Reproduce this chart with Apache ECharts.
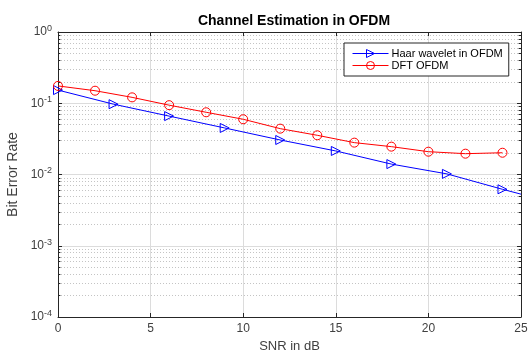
<!DOCTYPE html>
<html>
<head>
<meta charset="utf-8">
<script src="https://cdn.jsdelivr.net/npm/echarts@6/dist/echarts.min.js"></script>
<style>
  html, body { margin: 0; padding: 0; background: #fff; }
  #chart { width: 528px; height: 354px; }
</style>
</head>
<body>
<div id="chart"></div>
<script>
// SNR (dB) and BER
const haarSnr = [0, 3, 6, 9, 12, 15, 18, 21, 24, 25];
const haarBer = [0.153, 0.097, 0.066, 0.045, 0.0305, 0.0214, 0.014, 0.0102, 0.0062, 0.0053];
const dftSnr = [0, 2, 4, 6, 8, 10, 12, 14, 16, 18, 20, 22, 24];
const dftBer = [0.175, 0.150, 0.121, 0.094, 0.0747, 0.0596, 0.044, 0.0355, 0.028, 0.0246, 0.0209, 0.0196, 0.0202];
const decades = [1e-4, 1e-3, 1e-2, 1e-1];
const xMin = 0, xMax = 25;

// minor grid lines at 2..9 of each decade
const minorVals = [];
decades.forEach((d) => { for (let k = 2; k <= 9; k++) minorVals.push(k * d); });

const axisColor = "#262626";
const labelColor = "#404040";
const font = "Liberation Sans";

const chart = echarts.init(document.getElementById("chart"), null, { renderer: "canvas" });

function powLabel(v) {
  const e = Math.round(Math.log10(v));
  return "{b|10}{s|" + e + "}";
}

const ticksIn = { show: true, inside: true, length: 4, lineStyle: { color: axisColor } };
const minorTickLen = 0.13; // in SNR units, ~2.5px

chart.setOption({
  animation: false,
  backgroundColor: "#fff",
  title: {
    text: "Channel Estimation in OFDM",
    left: 289, top: 9, textAlign: "center",
    textStyle: { fontFamily: font, fontSize: 14, fontWeight: "bold", color: "#000" }
  },
  grid: { left: 58, right: 7, top: 32, bottom: 37, show: false, outerBoundsMode: "none", containLabel: false },
  legend: {
    orient: "vertical",
    left: 344, top: 43,
    padding: [5, 6, 5, 8],
    itemGap: 1,
    itemWidth: 36, itemHeight: 10,
    backgroundColor: "#fff",
    borderColor: axisColor, borderWidth: 1, borderRadius: 0,
    lineStyle: { width: 1 },
    itemStyle: { color: "rgba(0,0,0,0)", borderWidth: 1 },
    textStyle: { fontFamily: font, fontSize: 11, color: "#000", padding: [0, 0, 0, -2] },
    data: ["Haar wavelet in OFDM", "DFT OFDM"]
  },
  xAxis: [{
    type: "value", min: xMin, max: xMax, interval: 5,
    name: "SNR in dB", nameLocation: "middle", nameGap: 21,
    nameTextStyle: { fontFamily: font, fontSize: 13, color: labelColor },
    axisLine: { show: true, onZero: false, lineStyle: { color: axisColor } },
    axisTick: ticksIn,
    axisLabel: { fontFamily: font, fontSize: 12, color: labelColor, margin: 6 },
    splitLine: { show: true, lineStyle: { color: "#dcdcdc" } }
  }, {
    type: "value", min: xMin, max: xMax, interval: 5, position: "top",
    axisLine: { show: true, onZero: false, lineStyle: { color: axisColor } },
    axisTick: ticksIn, axisLabel: { show: false }, splitLine: { show: false }
  }],
  yAxis: [{
    type: "log", logBase: 10, min: 1e-4, max: 1,
    name: "Bit Error Rate", nameLocation: "middle", nameGap: 28,
    nameTextStyle: { fontFamily: font, fontSize: 14, color: labelColor },
    axisLine: { show: true, onZero: false, lineStyle: { color: axisColor } },
    axisTick: ticksIn,
    axisLabel: {
      margin: 6, color: labelColor,
      formatter: powLabel,
      rich: {
        b: { fontFamily: font, fontSize: 12, color: labelColor },
        s: { fontFamily: font, fontSize: 9, color: labelColor, padding: [0, 0, 7, 0] }
      }
    },
    splitLine: { show: true, lineStyle: { color: "#dcdcdc" } }
  }, {
    type: "log", logBase: 10, min: 1e-4, max: 1, position: "right",
    axisLine: { show: true, onZero: false, lineStyle: { color: axisColor } },
    axisTick: ticksIn, axisLabel: { show: false }, splitLine: { show: false }
  }],
  series: [{
    name: "minor grid",
    type: "lines",
    coordinateSystem: "cartesian2d",
    silent: true,
    z: 1,
    lineStyle: { color: "#c4c4c4", type: [1, 2], width: 1, opacity: 1 },
    data: minorVals.map((v) => ({ coords: [[xMin, v], [xMax, v]] }))
  }, {
    name: "minor ticks",
    type: "lines",
    coordinateSystem: "cartesian2d",
    silent: true,
    z: 2,
    lineStyle: { color: axisColor, width: 1, opacity: 1 },
    data: minorVals.flatMap((v) => [
      { coords: [[xMin, v], [xMin + minorTickLen, v]] },
      { coords: [[xMax - minorTickLen, v], [xMax, v]] }
    ])
  }, {
    name: "Haar wavelet in OFDM",
    type: "line",
    data: haarSnr.map((x, i) => ({
      value: [x, haarBer[i]],
      symbol: i === haarSnr.length - 1 ? "none" : "triangle"
    })),
    symbol: "triangle", symbolSize: 9, symbolRotate: -90,
    lineStyle: { color: "#0000ff", width: 1 },
    itemStyle: { color: "rgba(0,0,0,0)", borderColor: "#0000ff", borderWidth: 1 },
    z: 3
  }, {
    name: "DFT OFDM",
    type: "line",
    data: dftSnr.map((x, i) => [x, dftBer[i]]),
    symbol: "circle", symbolSize: 9,
    lineStyle: { color: "#ff0000", width: 1 },
    itemStyle: { color: "rgba(0,0,0,0)", borderColor: "#ff0000", borderWidth: 1 },
    z: 4
  }]
});
</script>
</body>
</html>
